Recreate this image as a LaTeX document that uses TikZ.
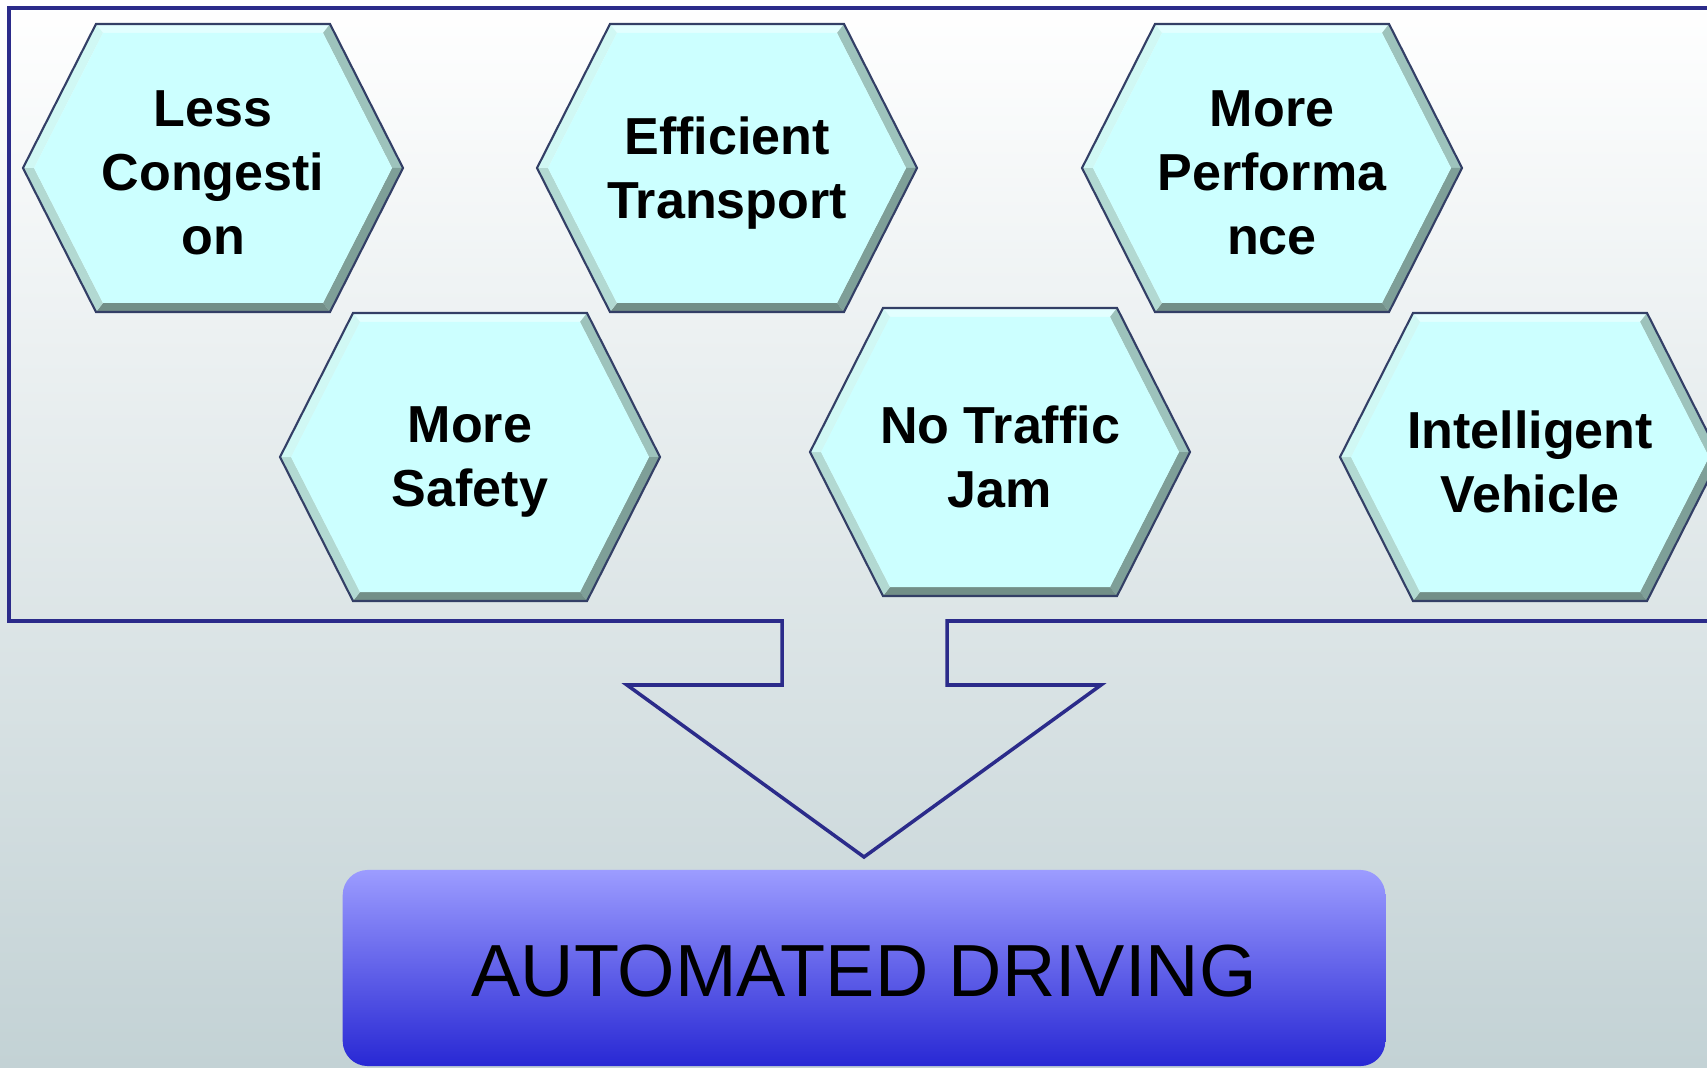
\documentclass[tikz,border=0pt]{standalone}
\usepackage{fontspec}
\setmainfont{Liberation Sans}
\usetikzlibrary{positioning}

\definecolor{FrameBlue}{HTML}{2B2B8A}
\definecolor{BackBot}{HTML}{C3D2D5}
\definecolor{BackMid}{HTML}{EDF1F2}
\definecolor{HexFace}{HTML}{CCFFFF}
\definecolor{HexEdge}{HTML}{333F66}
\definecolor{BevelTop}{HTML}{E2FFFF}
\definecolor{BevelUL}{HTML}{D0F8F4}
\definecolor{BevelLL}{HTML}{B2D9D2}
\definecolor{BevelBot}{HTML}{728F88}
\definecolor{BevelLR}{HTML}{7E9F98}
\definecolor{BevelUR}{HTML}{9DC3BC}
\definecolor{GoalTop}{HTML}{9C9CFF}
\definecolor{GoalMid}{HTML}{7878F0}
\definecolor{GoalBot}{HTML}{2828D4}

\tikzset{
	hexline/.style={draw=HexEdge, line width=0.6pt, line join=miter},
	hextext/.style={align=center, text=black, font=\bfseries\fontsize{14.8}{18.2}\selectfont},
	frameline/.style={draw=FrameBlue, line width=1pt, line join=miter},
	goalbox/.style={rounded corners=0.25cm, top color=GoalTop, middle color=GoalMid, bottom color=GoalBot,
		minimum width=10.42cm, minimum height=1.96cm, inner sep=0pt,
		font=\fontsize{21}{25}\selectfont},
}

% bevelled hexagon: name, centre, text
\newcommand{\HexCell}[3]{%
	\begin{scope}[shift={#2}]
		\fill[BevelTop] (-117,-144) -- (117,-144) -- (110,-135) -- (-110,-135) -- cycle;
		\fill[BevelUR]  (117,-144) -- (190,0) -- (179,0) -- (110,-135) -- cycle;
		\fill[BevelLR]  (190,0) -- (117,144) -- (110,135) -- (179,0) -- cycle;
		\fill[BevelBot] (117,144) -- (-117,144) -- (-110,135) -- (110,135) -- cycle;
		\fill[BevelLL]  (-117,144) -- (-190,0) -- (-179,0) -- (-110,135) -- cycle;
		\fill[BevelUL]  (-190,0) -- (-117,-144) -- (-110,-135) -- (-179,0) -- cycle;
		\fill[HexFace]  (-179,0) -- (-110,-135) -- (110,-135) -- (179,0) -- (110,135) -- (-110,135) -- cycle;
		\draw[hexline]  (-190,0) -- (-117,-144) -- (117,-144) -- (190,0) -- (117,144) -- (-117,144) -- cycle;
		\node[hextext] (#1) at (0,5) {#3};
	\end{scope}}

\begin{document}
\begin{tikzpicture}[x=0.01cm, y=-0.01cm]

	% ------------------------------------------------
	% Page size and background
	\useasboundingbox (0,0) rectangle (1707,1067);
	\shade[top color=white, middle color=BackMid, bottom color=BackBot] (0,0) rectangle (1707,1067);

	% ------------------------------------------------
	% Frame with the arrow cut out of its bottom side
	\coordinate (FrameTL) at (9,8);
	\coordinate (FrameTR) at (1730,8);
	\coordinate (FrameBR) at (1730,621);
	\coordinate (FrameBL) at (9,621);

	\coordinate (ShaftL) at (782,621);
	\coordinate (ShaftR) at (947,621);
	\path (ShaftL) +(0,64) coordinate (NeckL);
	\path (ShaftR) +(0,64) coordinate (NeckR);
	\coordinate (BarbL) at (627,685);
	\coordinate (BarbR) at (1101,685);
	\coordinate (Tip) at (864,857);

	\draw[frameline] (ShaftL) -- (FrameBL) -- (FrameTL) -- (FrameTR) -- (FrameBR) -- (ShaftR)
		-- (NeckR) -- (BarbR) -- (Tip) -- (BarbL) -- (NeckL) -- cycle;

	% ----------------
	% Benefits
	\HexCell{LessCong}{(213,168)}{Less\\Congesti\\on}
	\HexCell{EffTrans}{(727,168)}{Efficient\\Transport}
	\HexCell{MorePerf}{(1272,168)}{More\\Performa\\nce}
	\HexCell{MoreSafe}{(470,457)}{More\\Safety}
	\HexCell{NoJam}{(1000,452)}{No Traffic\\Jam}
	\HexCell{IntVeh}{(1530,457)}{Intelligent\\Vehicle}

	% ----------------
	% Goal
	\node[goalbox] (Goal) at (864,968) {};
	\node[font=\fontsize{21}{25}\selectfont] (GoalText) at ([yshift=-0.03cm]Goal.center) {AUTOMATED DRIVING};

\end{tikzpicture}
\end{document}
